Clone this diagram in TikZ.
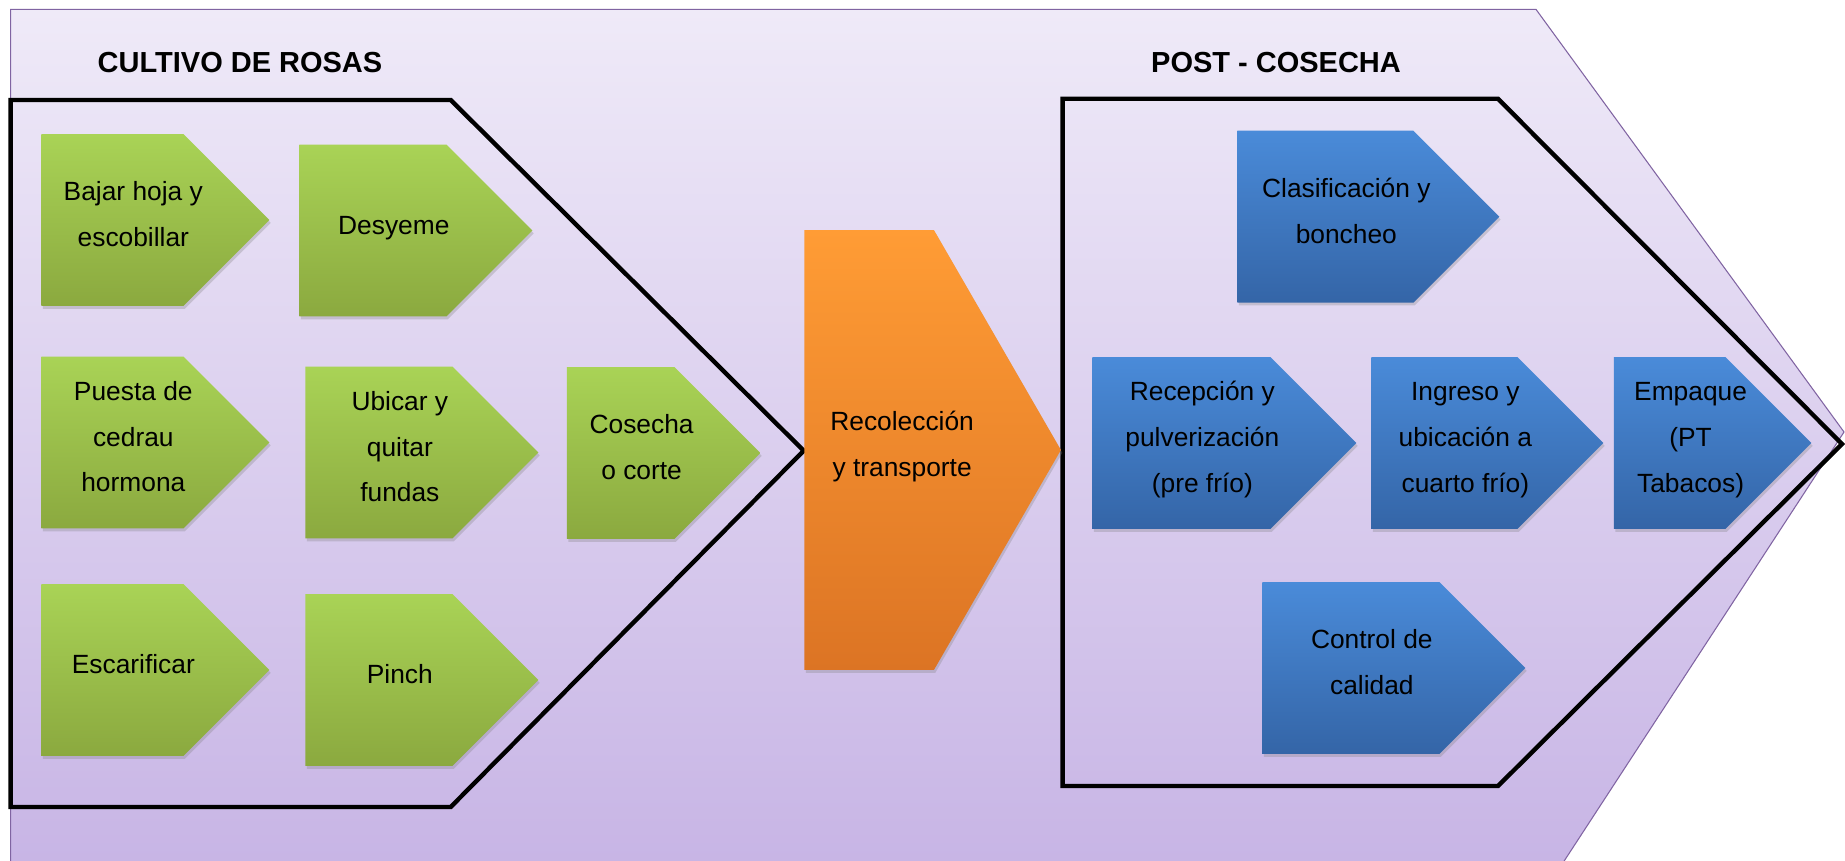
\documentclass[tikz,border=0pt]{standalone}
\usepackage{fontspec}
\setmainfont{Liberation Sans}
\usetikzlibrary{shapes.symbols,shadows}
\definecolor{bgtop}{HTML}{EFEAF8}
\definecolor{bgbot}{HTML}{C7B4E5}
\definecolor{bgline}{HTML}{8064A2}
\definecolor{gtop}{HTML}{A9D356}
\definecolor{gbot}{HTML}{8BA93F}
\definecolor{btop}{HTML}{4A8BD9}
\definecolor{bbot}{HTML}{3465A7}
\definecolor{otop}{HTML}{FF9C35}
\definecolor{obot}{HTML}{DC7424}
\newcommand\lns[2][8.4mm]{\hspace*{#1}\raisebox{3.2pt}[\height][\depth]{\begin{tabular}{@{}c@{}}#2\end{tabular}}}
\begin{document}
\begin{tikzpicture}[x=0.02cm,y=-0.02cm,every node/.style={font=\fontsize{15}{26}\selectfont},
s/.style={signal,signal to=east,anchor=west,inner xsep=-8mm,inner ysep=0pt,minimum height=3.44cm,
 drop shadow={opacity=.3,shadow xshift=.8pt,shadow yshift=-1.6pt}},
g/.style={s,top color=gtop,bottom color=gbot},bl/.style={s,top color=btop,bottom color=bbot},
t/.style={font=\fontsize{16.5}{20}\selectfont\bfseries}]
\path[use as bounding box,fill=white] (0,0) rectangle (1845,861);
\shadedraw[top color=bgtop,bottom color=bgbot,draw=bgline,line width=.6pt] (10.6,9.4)--(1536,9.4)--(1844,432)--(1555,875)--(10.6,875)--cycle;
\draw[line width=2.5pt] (10.6,100)--(450.7,100)--(803.7,450.7)--(450.7,807)--(10.6,807)--cycle;
\draw[line width=2.5pt] (1062.6,98.8)--(1498,98.8)--(1842,444)--(1498,786)--(1062.6,786)--cycle;
\node[t] (t1) at (240,63) {CULTIVO DE ROSAS};
\node[t] (t2) at (1276,63) {POST - COSECHA};
\node[g,minimum width=4.56cm] (bh) at (41,220) {\lns{Bajar hoja y\\escobillar}};
\node[g,minimum width=4.66cm] (de) at (299,230.5) {\lns{Desyeme}};
\node[g,minimum width=4.56cm] (pc) at (41,442.5) {\lns{Puesta de\\cedrau\\hormona}};
\node[g,minimum width=4.66cm] (uq) at (305,452.5) {\lns{Ubicar y\\quitar\\fundas}};
\node[g,minimum width=4.56cm] (es) at (41,670) {\lns{Escarificar}};
\node[g,minimum width=4.66cm] (pi) at (305,680) {\lns{Pinch}};
\node[g,minimum width=3.87cm] (co) at (566.5,453) {\lns{Cosecha\\o corte}};
\node[s,top color=otop,bottom color=obot,minimum width=5.13cm,minimum height=8.8cm,signal pointer angle=120] (rt) at (804,450) {\lns[13.2mm]{Recolección\\y transporte}};
\node[bl,minimum width=5.24cm] (cb) at (1237,216.7) {\lns{Clasificación y\\boncheo}};
\node[bl,minimum width=5.28cm] (rp) at (1092,443) {\lns{Recepción y\\pulverización\\(pre frío)}};
\node[bl,minimum width=4.64cm] (ic) at (1371,443) {\lns{Ingreso y\\ubicación a\\cuarto frío)}};
\node[bl,minimum width=3.95cm] (em) at (1613.5,443) {\lns{Empaque\\(PT\\Tabacos)}};
\node[bl,minimum width=5.26cm] (cc) at (1262,668) {\lns{Control de\\calidad}};
\end{tikzpicture}
\end{document}
